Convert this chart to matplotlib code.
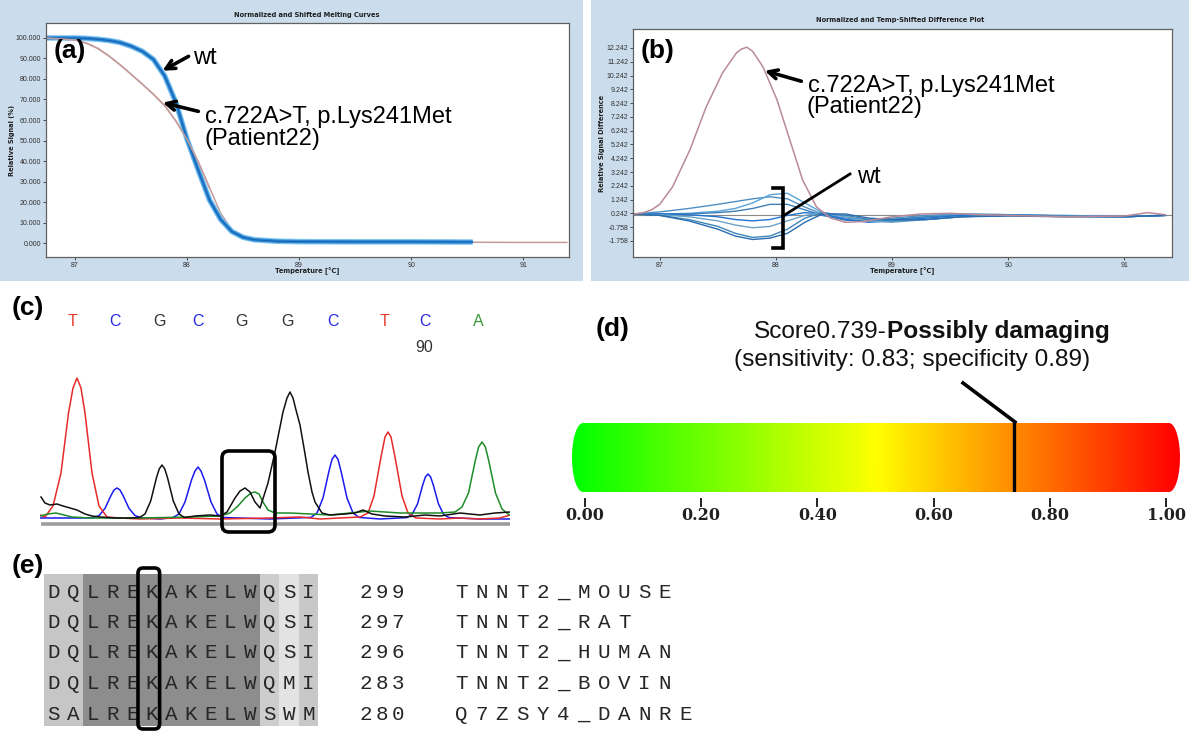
import numpy as np
import matplotlib
matplotlib.use('Agg')
import matplotlib.pyplot as plt
from matplotlib.patches import Rectangle, FancyBboxPatch, PathPatch
from matplotlib.path import Path
from matplotlib.colors import LinearSegmentedColormap

# ======================= DATA =======================
# (a) normalized and shifted melting curves
melt_temp_wt = [86.74, 87.0, 87.1, 87.2, 87.3, 87.4, 87.5, 87.6, 87.7, 87.8, 87.9, 88.0,
                88.1, 88.2, 88.3, 88.4, 88.5, 88.6, 88.8, 89.0, 89.5, 90.0, 90.55]
melt_wt = [100, 100, 99.8, 99.4, 98.8, 97.8, 96.0, 93.5, 89.5, 81.5, 68.5, 50.5,
           35.5, 21.0, 11.5, 5.6, 2.8, 1.6, 0.9, 0.7, 0.6, 0.6, 0.5]
melt_temp_mut = [86.74, 87.0, 87.1, 87.2, 87.3, 87.4, 87.5, 87.6, 87.7, 87.8, 87.9, 88.0,
                 88.1, 88.2, 88.3, 88.4, 88.5, 88.6, 88.8, 89.0, 89.5, 90.0, 90.5, 91.0, 91.39]
melt_mut = [100, 99.0, 97.5, 95.0, 91.3, 87.0, 82.3, 77.5, 72.5, 67.0, 59.5, 50.5,
            39.5, 27.0, 14.5, 6.5, 3.0, 1.8, 1.0, 0.7, 0.5, 0.4, 0.4, 0.3, 0.3]
melt_yticks = [0, 10, 20, 30, 40, 50, 60, 70, 80, 90, 100]
temp_ticks = [87, 88, 89, 90, 91]

# (b) difference plot
diff_temp_mut = [86.77, 86.85, 86.93, 87.0, 87.11, 87.26, 87.40, 87.54, 87.66, 87.70, 87.75, 87.80,
                 87.89, 88.01, 88.12, 88.23, 88.35, 88.47, 88.6, 88.75, 89.0, 89.25, 89.5,
                 89.75, 90.0, 90.5, 91.0, 91.2, 91.35]
diff_mut = [0.2, 0.27, 0.5, 0.9, 2.16, 4.85, 7.97, 10.43, 11.88, 12.15, 12.3, 12.0,
            10.86, 8.47, 5.57, 2.67, 0.71, -0.09, -0.4, -0.35, 0.0, 0.2, 0.25,
            0.15, 0.1, 0.0, 0.05, 0.3, 0.15]
diff_temp_wt = [86.77, 87.0, 87.25, 87.5, 87.65, 87.8, 87.95, 88.1, 88.25, 88.4, 88.6,
                88.8, 89.0, 89.3, 89.6, 90.0, 90.5, 91.0, 91.35]
diff_wt_1 = [0.2, 0.35, 0.6, 0.9, 1.1, 1.3, 1.45, 1.3, 0.7, 0.2, -0.1, -0.2, -0.1, 0.1, 0.2, 0.15, 0.05, 0.05, 0.1]
diff_wt_2 = [0.2, 0.2, 0.25, 0.4, 0.6, 1.0, 1.6, 1.7, 1.0, 0.3, -0.2, -0.3, -0.2, 0.0, 0.2, 0.15, 0.1, 0.0, 0.1]
diff_wt_3 = [0.2, 0.2, 0.2, 0.3, 0.4, 0.6, 0.9, 0.9, 0.5, 0.1, -0.25, -0.3, -0.2, 0.0, 0.1, 0.1, 0.0, 0.0, 0.1]
diff_wt_4 = [0.2, 0.2, 0.15, 0.0, -0.2, -0.3, -0.2, 0.1, 0.3, 0.2, -0.2, -0.4, -0.3, -0.1, 0.1, 0.15, 0.05, 0.0, 0.1]
diff_wt_5 = [0.2, 0.15, 0.0, -0.3, -0.6, -0.8, -0.7, -0.3, 0.1, 0.3, 0.0, -0.3, -0.4, -0.2, 0.0, 0.1, 0.05, 0.0, 0.1]
diff_wt_6 = [0.2, 0.1, -0.2, -0.7, -1.2, -1.5, -1.4, -0.9, -0.1, 0.3, 0.1, -0.2, -0.3, -0.2, 0.0, 0.1, 0.05, 0.0, 0.1]
diff_wt_7 = [0.2, 0.1, -0.3, -0.9, -1.4, -1.65, -1.55, -1.2, -0.4, 0.2, 0.2, -0.1, -0.2, -0.2, 0.0, 0.05, 0.0, 0.0, 0.1]
diff_reference_level = 0.15
diff_yticks = [-1.758, -0.758, 0.242, 1.242, 2.242, 3.242, 4.242, 5.242, 6.242,
               7.242, 8.242, 9.242, 10.242, 11.242, 12.242]

# (c) sequencing chromatogram (scan position, signal)
trace_T_x = [0, 5, 13, 21, 28.5, 33, 37, 41, 45, 52, 59, 67, 80, 100, 140, 180, 230, 260, 280, 300, 320,
             328, 334, 341, 345, 348, 351, 355, 362, 368, 376, 400, 420, 440, 460, 470]
trace_T_y = [3, 1, 12, 45, 105, 130, 140, 130, 105, 45, 12, 1, 0, -1, 0, -1, 0, 1, -1, 0, 1,
             5, 22, 61, 81, 86, 81, 61, 22, 5, 0, -1, 0, -1, 0, 3]
trace_C_x = [0, 40, 53, 59, 65, 71, 74, 77, 80, 83, 89, 95, 101, 120,
             133, 139, 145, 151.5, 155, 158, 161, 164.5, 171, 177, 183, 230,
             271, 277, 283, 289, 292, 295, 298, 301, 307, 313, 319, 340,
             367, 372, 377.5, 382.7, 385.4, 388, 390.6, 393.3, 398.5, 403.7, 409, 440, 470]
trace_C_y = [0, 0, 0.3, 2.4, 9.6, 22.5, 28, 30, 28, 22.5, 9.6, 2.4, 0.3, -1,
             0.5, 4, 16, 38, 47, 51, 47, 38, 16, 4, 0.5, -1,
             0.6, 5, 20, 47, 58.6, 63, 58.6, 47, 20, 5, 0.6, -1,
             0.4, 3.5, 14, 33, 41, 44, 41, 33, 14, 3.5, 0.4, -1, -1]
trace_G_x = [1, 5, 10, 17, 23, 30, 37, 45, 52, 60, 75, 90,
             99.5, 105, 110.7, 116.4, 119.2, 122, 124.8, 127.6, 133.3, 139, 144.5,
             155, 170, 180, 187, 195, 200, 205, 210, 215, 220,
             228, 235, 243, 247, 250, 253, 256, 260, 264, 268, 272, 275, 282, 290,
             305, 315, 323, 332, 345, 365, 385, 400, 420, 440, 455, 470]
trace_G_y = [21, 15, 13, 14, 12, 10, 8, 4, 2, 1, 0, 0,
             0.5, 4, 17, 40, 49, 53, 49, 40, 17, 4, 0.5,
             2, 3, 2, 6, 20, 27, 30, 26, 16, 10,
             35, 66, 106, 120, 126, 120, 108, 93, 70, 46, 26, 16, 5, 3,
             4, 5, 8, 4, 2, 1, 3, 2, 5, 3, 5, 6]
trace_A_x = [0, 8, 16, 24, 32, 50, 100, 150, 180,
             190, 198, 205, 211, 215, 219, 223, 228, 235,
             250, 270, 290, 310, 330, 345, 360, 380, 400, 415,
             422, 428.5, 435.2, 438.6, 442, 445.4, 448.8, 455.5, 462, 468, 470]
trace_A_y = [2, 4, 5, 3, 1, 0, 0, 1, 2,
             5, 12, 20, 25, 26, 24, 16, 8, 5,
             5, 4, 3, 5, 7, 6, 5, 5, 5, 6,
             11, 25, 57, 71, 76, 71, 57, 25, 9, 4, 3]
base_calls = ['T', 'C', 'G', 'C', 'G', 'G', 'C', 'T', 'C', 'A']
base_call_pos = [33, 75, 119, 158, 202, 247, 293, 345, 385, 438]
base_number_label = '90'
base_number_pos = 384

# (d) PolyPhen score bar
polyphen_score = 0.739
score_ticks = [0.0, 0.2, 0.4, 0.6, 0.8, 1.0]
score_tick_labels = ['0.00', '0.20', '0.40', '0.60', '0.80', '1.00']

# (e) alignment
align_seqs = ['DQLREKAKELWQSI', 'DQLREKAKELWQSI', 'DQLREKAKELWQSI', 'DQLREKAKELWQMI', 'SALREKAKELWSWM']
align_end_pos = ['299', '297', '296', '283', '280']
align_names = ['TNNT2_MOUSE', 'TNNT2_RAT', 'TNNT2_HUMAN', 'TNNT2_BOVIN', 'Q7ZSY4_DANRE']
align_col_shade = ['#c6c6c6', '#c6c6c6'] + ['#8d8d8d'] * 9 + ['#cdcdcd', '#e3e3e3', '#c8c8c8']
mutated_col = 5

# ======================= FIGURE =======================
W, H = 1200, 731
fig = plt.figure(figsize=(12, 7.31), dpi=100)
fig.patch.set_facecolor('white')
plt.rcParams['font.family'] = ['Liberation Sans', 'DejaVu Sans']


def px_rect(x0, y0, x1, y1):
    return [x0 / W, 1 - y1 / H, (x1 - x0) / W, (y1 - y0) / H]


def blank(ax):
    ax.set_xticks([])
    ax.set_yticks([])
    for s in ax.spines.values():
        s.set_visible(False)


BG = '#cbdcec'
for r in [(0, 0, 583, 281), (591, 0, 1189, 281)]:
    b = fig.add_axes(px_rect(*r))
    b.set_facecolor(BG)
    blank(b)


def style_instrument(ax):
    ax.set_facecolor('white')
    for s in ax.spines.values():
        s.set_color('#606060')
        s.set_linewidth(0.9)
    ax.tick_params(labelsize=5, length=2, width=0.6, colors='#303030', pad=1.5)


# ---------- (a) ----------
axA = fig.add_axes(px_rect(46, 23, 569, 257))
style_instrument(axA)
axA.set_xlim(86.74, 91.41)
axA.set_ylim(-6.8, 107.3)
axA.plot(melt_temp_mut, melt_mut, color='#c49c9c', lw=1.1)
axA.plot(melt_temp_wt, melt_wt, color='#7cc4ee', lw=4.0, solid_capstyle='butt')
axA.plot(melt_temp_wt, melt_wt, color='#2a86d8', lw=2.4, solid_capstyle='butt')
axA.plot(melt_temp_wt, melt_wt, color='#1860a8', lw=0.7)
axA.plot(melt_temp_mut[:14], melt_mut[:14], color='#c49c9c', lw=1.1)
axA.set_yticks(melt_yticks)
axA.set_yticklabels([f'{v:.3f}' for v in melt_yticks])
axA.set_xticks(temp_ticks)
axA.set_xticklabels([str(t) for t in temp_ticks])

# ---------- (b) ----------
axB = fig.add_axes(px_rect(633, 29, 1172, 257))
style_instrument(axB)
axB.set_xlim(86.77, 91.41)
axB.set_ylim(-2.92, 13.62)
axB.axhline(diff_reference_level, color='#8a8a8a', lw=0.8)
wt_sets = [diff_wt_1, diff_wt_2, diff_wt_3, diff_wt_4, diff_wt_5, diff_wt_6, diff_wt_7]
wt_cols = ['#4d8fc4', '#5aa3d8', '#3f7fb8', '#1f74d0', '#6aa2c8', '#3d86b8', '#2a6cb0']
for vals, c in zip(wt_sets, wt_cols):
    axB.plot(diff_temp_wt, vals, color=c, lw=1.0)
axB.plot(diff_temp_mut, diff_mut, color='#b98a98', lw=1.1)
axB.set_yticks(diff_yticks)
axB.set_yticklabels([f'{v:.3f}' for v in diff_yticks])
axB.set_xticks(temp_ticks)
axB.set_xticklabels([str(t) for t in temp_ticks])

# ---------- (c) ----------
axC = fig.add_axes(px_rect(40, 370, 510, 530))
blank(axC)
axC.patch.set_alpha(0)
axC.set_xlim(0, 470)
axC.set_ylim(-12, 148)
axC.plot([1, 470], [-6, -6], color='#9c9c9c', lw=2.6, solid_capstyle='butt')
axC.plot(trace_C_x, trace_C_y, color='#1a1aee', lw=1.1)
axC.plot(trace_T_x, trace_T_y, color='#e82a2a', lw=1.1)
axC.plot(trace_A_x, trace_A_y, color='#1e8c2a', lw=1.1)
axC.plot(trace_G_x, trace_G_y, color='#111111', lw=1.1)
call_colors = {'T': '#e8392a', 'C': '#2a2ae6', 'G': '#333333', 'A': '#3a9a3a'}
for b_, xp in zip(base_calls, base_call_pos):
    axC.text(xp, 196, b_, color=call_colors[b_], fontsize=11.5, ha='center', va='center',
             clip_on=False)
axC.text(base_number_pos, 171, base_number_label, color='#333333', fontsize=11.5,
         ha='center', va='center', clip_on=False)

# ---------- (d) ----------
x0d, x1d = -0.0224, 1.024
axD = fig.add_axes(px_rect(572, 423, 1180, 492))
axD.set_xlim(x0d, x1d)
axD.set_ylim(0, 1)
axD.patch.set_alpha(0)
cmap = LinearSegmentedColormap.from_list('pp', [(0, '#00ff00'), (0.5, '#ffff00'), (1.0, '#ff0000')])
grad = np.linspace(0, 1, 600).reshape(1, -1)
im = axD.imshow(grad, cmap=cmap, extent=(x0d, x1d, 0, 1), aspect='auto', vmin=0, vmax=1)
rx = 0.019
t = np.linspace(-np.pi / 2, np.pi / 2, 40)
rxs = x1d - rx + rx * np.cos(t)
rys = 0.5 + 0.5 * np.sin(t)
lxs = x0d + rx - rx * np.cos(t[::-1])
lys = 0.5 + 0.5 * np.sin(t[::-1])
verts = list(zip(rxs, rys)) + list(zip(lxs, lys)) + [(rxs[0], rys[0])]
pill = PathPatch(Path(verts), transform=axD.transData, facecolor='none', edgecolor='none')
axD.add_patch(pill)
im.set_clip_path(pill)
axD.plot([polyphen_score, polyphen_score], [0.02, 1.0], color='black', lw=2.4)
axD.set_xticks(score_ticks)
axD.set_xticklabels(score_tick_labels)
axD.set_yticks([])
for k in ['top', 'left', 'right']:
    axD.spines[k].set_visible(False)
axD.spines['bottom'].set_position(('outward', 4.5))
axD.spines['bottom'].set_visible(False)
axD.tick_params(axis='x', direction='out', length=6.5, width=1.4, color='#222222', pad=0)
for lab in axD.get_xticklabels():
    lab.set_fontfamily(['DejaVu Serif'])
    lab.set_fontweight('bold')
    lab.set_fontsize(11.5)
    lab.set_color('#202020')

# ---------- overlay (annotations, panel e) ----------
ov = fig.add_axes([0, 0, 1, 1])
ov.set_xlim(0, W)
ov.set_ylim(H, 0)
ov.axis('off')
ov.patch.set_alpha(0)
ov.set_zorder(20)

small = dict(fontsize=4.8, fontweight='bold', color='#202020', family=['DejaVu Sans'])
ov.text(307, 15, 'Normalized and Shifted Melting Curves', ha='center', va='center', **small)
ov.text(900, 20, 'Normalized and Temp-Shifted Difference Plot', ha='center', va='center', **small)
ov.text(12, 140, 'Relative Signal (%)', rotation=90, ha='center', va='center', **small)
ov.text(602, 143, 'Relative Signal Difference', rotation=90, ha='center', va='center', **small)
ov.text(307, 271, 'Temperature [°C]', ha='center', va='center', **small)
ov.text(902, 271, 'Temperature [°C]', ha='center', va='center', **small)

lab = dict(fontsize=19, fontweight='bold', color='black', va='baseline', ha='left')
ov.text(54, 58, '(a)', **lab)
ov.text(641, 58, '(b)', **lab)
ov.text(12, 315, '(c)', **lab)
ov.text(596, 336, '(d)', **lab)
ov.text(12, 573, '(e)', **lab)

ann = dict(fontsize=17, color='black', va='baseline', ha='left')
ov.text(193, 64, 'wt', **ann)
ov.text(205, 123, 'c.722A>T, p.Lys241Met', **ann)
ov.text(204, 145, '(Patient22)', **ann)
ov.text(808, 92, 'c.722A>T, p.Lys241Met', **ann)
ov.text(807, 113, '(Patient22)', **ann)
ov.text(857, 183, 'wt', **ann)

arr = dict(arrowstyle='->', lw=2.6, color='black', mutation_scale=16)
ov.annotate('', xy=(160, 72), xytext=(191, 55), arrowprops=arr)
ov.annotate('', xy=(160, 102), xytext=(201, 112), arrowprops=arr)
ov.annotate('', xy=(762, 70), xytext=(804, 82), arrowprops=arr)

ov.plot([850, 783], [174, 216], color='black', lw=2.0)
ov.plot([773, 783, 783, 773], [188, 188, 248, 248], color='black', lw=2.6,
        solid_joinstyle='miter')

# chromatogram box
ov.add_patch(FancyBboxPatch((222, 451), 53, 81, boxstyle='round,pad=0,rounding_size=7',
                            fill=False, edgecolor='black', lw=2.6))

# (d) texts
ov.text(887, 338, 'Score0.739-', fontsize=17.6, ha='right', va='baseline', color='#111111')
ov.text(887, 338, 'Possibly damaging', fontsize=17.6, fontweight='bold', ha='left',
        va='baseline', color='#111111')
ov.text(912, 366, '(sensitivity: 0.83; specificity 0.89)', fontsize=17.6, ha='center',
        va='baseline', color='#111111')
ov.plot([963, 1015], [383, 422], color='black', lw=2.6)

# (e) alignment
col_w = 19.6
x_start = 44
row_y = [592, 622.5, 653, 683.5, 714]
for i, c in enumerate(align_col_shade):
    ov.add_patch(Rectangle((x_start + i * col_w, 574), col_w, 152, facecolor=c,
                           edgecolor='none', zorder=1))
mono = ['Liberation Mono', 'DejaVu Sans Mono']
for r, seq in enumerate(align_seqs):
    for i, ch in enumerate(seq):
        ov.text(x_start + (i + 0.5) * col_w, row_y[r], ch, fontsize=15, family=mono,
                color='#262626', ha='center', va='center', zorder=3)
    for j, ch in enumerate(align_end_pos[r]):
        ov.text(366 + j * 16, row_y[r], ch, fontsize=15, family=mono, color='#262626',
                ha='center', va='center', zorder=3)
    for j, ch in enumerate(align_names[r]):
        ov.text(461 + j * 20.4, row_y[r], ch, fontsize=15, family=mono, color='#262626',
                ha='center', va='center', zorder=3)
ov.add_patch(FancyBboxPatch((x_start + mutated_col * col_w - 4, 568), col_w + 2, 161,
                            boxstyle='round,pad=0,rounding_size=5', fill=False,
                            edgecolor='black', lw=2.6, zorder=5))

fig.savefig('out.png', dpi=100, facecolor='white')
